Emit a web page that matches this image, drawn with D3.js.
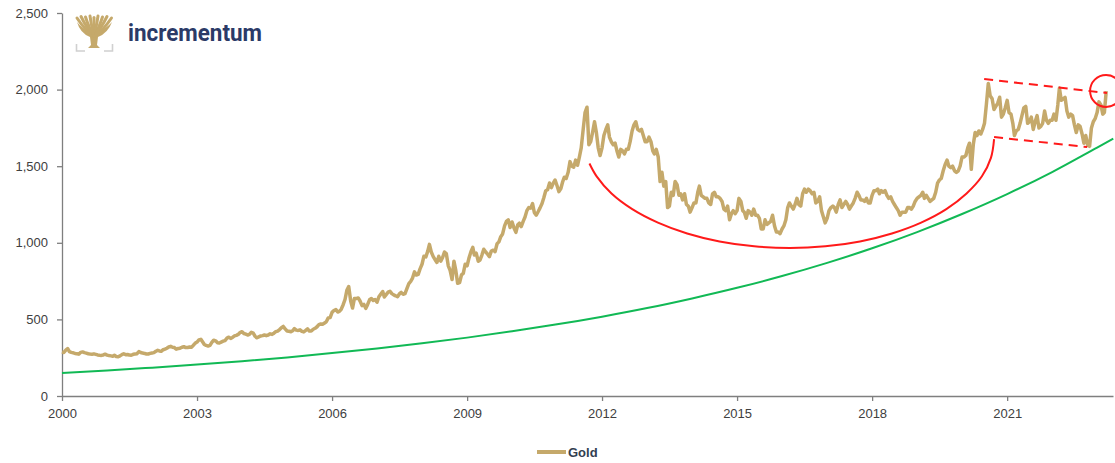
<!DOCTYPE html>
<html>
<head>
<meta charset="utf-8">
<script src="https://cdn.jsdelivr.net/npm/d3@7"></script>
<style>
  body { margin: 0; background: #fff; }
  svg { display: block; font-family: "Liberation Sans", Arial, sans-serif; }
</style>
</head>
<body>
<div id="chart"></div>
<script>
// gold price, USD/oz, two readings per month (1st and 16th)
const gold2000 = [288,284, 300,310, 290,285, 282,278, 276,273, 285,288, 283,280, 276,274, 273,275, 272,268, 266,265, 268,273];
const gold2001 = [267,264, 262,260, 266,258, 256,262, 270,276, 270,271, 267,266, 272,274, 276,290, 284,280, 278,274, 274,278];
const gold2002 = [281,283, 292,298, 294,292, 302,306, 312,320, 324,318, 316,306, 310,312, 318,322, 316,316, 320,318, 330,344];
const gold2003 = [352,366, 370,352, 336,330, 326,330, 350,364, 360,348, 346,352, 358,362, 378,384, 376,382, 392,396, 402,414];
const gold2004 = [420,408, 404,398, 402,416, 410,390, 380,386, 392,394, 398,394, 398,406, 402,410, 420,424, 434,446, 454,438];
const gold2005 = [424,422, 420,426, 440,430, 428,432, 422,418, 428,438, 424,424, 436,442, 452,466, 470,468, 476,486, 510,512];
const gold2006 = [546,558, 564,548, 552,566, 596,630, 690,715, 620,574, 636,636, 640,620, 590,598, 572,596, 628,636, 624,630];
const gold2007 = [612,648, 666,682, 646,662, 678,684, 668,660, 654,648, 666,676, 664,668, 702,734, 748,770, 810,790, 794,830];
const gold2008 = [860,912, 908,944, 990,940, 910,890, 872,912, 880,904, 940,930, 850,820, 760,880, 820,736, 740,790, 800,860];
const gold2009 = [850,900, 942,970, 920,932, 880,888, 920,958, 940,926, 910,946, 952,942, 994,1006, 1040,1058, 1110,1140, 1150,1100];
const gold2010 = [1136,1098, 1068,1118, 1128,1106, 1140,1168, 1210,1230, 1226,1256, 1196,1180, 1204,1228, 1256,1296, 1340,1346, 1390,1360, 1390,1410];
const gold2011 = [1372,1334, 1354,1400, 1428,1420, 1460,1530, 1500,1494, 1540,1506, 1560,1620, 1740,1850, 1885,1640, 1660,1720, 1790,1720, 1620,1570];
const gold2012 = [1620,1700, 1740,1770, 1690,1660, 1640,1650, 1600,1560, 1610,1600, 1580,1610, 1610,1660, 1730,1770, 1790,1740, 1730,1740, 1700,1660];
const gold2013 = [1660,1690, 1660,1600, 1580,1610, 1560,1400, 1460,1370, 1400,1230, 1240,1330, 1310,1400, 1380,1310, 1320,1280, 1320,1250, 1240,1200];
const gold2014 = [1230,1260, 1260,1330, 1370,1310, 1300,1290, 1290,1260, 1250,1320, 1330,1300, 1300,1290, 1270,1220, 1210,1240, 1150,1190, 1210,1190];
const gold2015 = [1210,1290, 1270,1210, 1200,1160, 1210,1200, 1180,1220, 1180,1180, 1160,1090, 1090,1150, 1120,1130, 1140,1180, 1110,1070, 1070,1060];
const gold2016 = [1090,1110, 1150,1230, 1260,1240, 1220,1250, 1290,1250, 1240,1320, 1350,1330, 1350,1340, 1320,1330, 1260,1270, 1300,1210, 1170,1130];
const gold2017 = [1160,1210, 1230,1240, 1230,1200, 1250,1280, 1230,1250, 1270,1250, 1220,1240, 1260,1290, 1330,1310, 1280,1280, 1270,1290, 1260,1260];
const gold2018 = [1310,1340, 1340,1350, 1320,1340, 1330,1340, 1310,1290, 1300,1270, 1250,1230, 1210,1180, 1200,1200, 1200,1230, 1230,1220, 1240,1270];
const gold2019 = [1290,1300, 1310,1330, 1290,1310, 1290,1270, 1280,1290, 1330,1390, 1410,1420, 1470,1510, 1540,1500, 1490,1500, 1470,1460, 1470,1500];
const gold2020 = [1560,1560, 1570,1620, 1650,1480, 1640,1720, 1700,1730, 1710,1740, 1780,1900, 2040,1960, 1940,1870, 1890,1910, 1950,1820, 1840,1880];
const gold2021 = [1930,1850, 1840,1780, 1700,1730, 1740,1780, 1830,1880, 1890,1780, 1790,1820, 1740,1790, 1830,1750, 1760,1780, 1860,1800, 1780,1800];
const gold2022 = [1800,1840, 1800,1900, 2010,1930, 1940,1950, 1860,1820, 1840,1830, 1770,1720, 1770,1760, 1710,1650, 1700,1640, 1630,1750, 1790,1810];
const gold2023 = [1850,1920, 1900,1840, 1850,1990];
const goldByYear = [gold2000, gold2001, gold2002, gold2003, gold2004, gold2005, gold2006, gold2007,
  gold2008, gold2009, gold2010, gold2011, gold2012, gold2013, gold2014, gold2015, gold2016, gold2017,
  gold2018, gold2019, gold2020, gold2021, gold2022, gold2023];

// green trend line
const trendYears  = [2000, 2001, 2002, 2003, 2004, 2005, 2006, 2007, 2008, 2009, 2010, 2011,
  2012, 2013, 2014, 2015, 2016, 2017, 2018, 2019, 2020, 2021, 2022, 2023, 2023.36];
const trendValues = [150, 166, 185, 205, 227, 252, 280, 310, 344, 381, 423, 468,
  518, 574, 637, 706, 783, 869, 964, 1070, 1188, 1318, 1462, 1622, 1680];

// red annotations (points read along the drawn arc)
const arcYears  = [2011.72, 2011.88, 2012.21, 2012.67, 2013.24, 2013.89, 2014.61, 2015.38, 2016.18,
  2016.96, 2017.73, 2018.44, 2019.09, 2019.65, 2020.10, 2020.44, 2020.64, 2020.71];
const arcValues = [1518, 1434, 1322, 1220, 1132, 1061, 1009, 977, 966,
  977, 1009, 1061, 1132, 1220, 1322, 1434, 1554, 1677];
const upperYears = [2020.49, 2023.22], upperValues = [2069, 1978];
const lowerYears = [2020.71, 2022.78], lowerValues = [1690, 1625];
const circleYear = 2023.2, circleValue = 1991;

const yTicks = [0, 500, 1000, 1500, 2000, 2500];
const xTickYears = [2000, 2003, 2006, 2009, 2012, 2015, 2018, 2021];

const width = 1115, height = 463;
const margin = {left: 62, right: 1113, top: 13, bottom: 396};
const goldColor = "#c5a96b";

function decYear(v) {
  const yr = Math.floor(v);
  const s = new Date(yr, 0, 1), e = new Date(yr + 1, 0, 1);
  return new Date(+s + (v - yr) * (e - s));
}

const goldData = [];
goldByYear.forEach((vals, i) => {
  vals.forEach((v, j) => {
    goldData.push({date: new Date(2000 + i, Math.floor(j / 2), j % 2 ? 16 : 1), value: v});
  });
});

const x = d3.scaleTime().domain([new Date(2000, 0, 1), new Date(2023, 4, 10)]).range([margin.left, margin.right]);
const y = d3.scaleLinear().domain([0, 2500]).range([margin.bottom, margin.top]);

const svg = d3.select("#chart").append("svg")
  .attr("width", width)
  .attr("height", height);

// logo: tree + brackets + name
const logo = svg.append("g").attr("class", "logo");
logo.append("path")
  .attr("d", "M77,22 Q80,33 90,37 L91,45 L88,48 L100,48 L97,45 L98,37 Q108,33 112,22 Q106,29 99,30 L94,31 L89,30 Q82,29 77,22 Z")
  .attr("fill", goldColor);
const branches = [[77,18],[81,16.5],[85.5,17],[90,16],[94,17.5],[98,16],[102.5,17],[107,16.5],[111.5,18]];
branches.forEach(b => {
  logo.append("path")
    .attr("d", "M94,36 Q" + ((b[0] + 94) / 2) + "," + (b[1] + 13) + " " + b[0] + "," + b[1])
    .attr("fill", "none")
    .attr("stroke", goldColor)
    .attr("stroke-width", 3)
    .attr("stroke-linecap", "round");
});
logo.append("path").attr("d", "M76.5,44 V51 H85").attr("fill", "none").attr("stroke", "#d0d0d0").attr("stroke-width", 1.6);
logo.append("path").attr("d", "M104,51 H112.5 V44").attr("fill", "none").attr("stroke", "#d0d0d0").attr("stroke-width", 1.6);
svg.append("text")
  .attr("x", 128).attr("y", 41)
  .attr("fill", "#2b3a67")
  .attr("textLength", 134)
  .attr("lengthAdjust", "spacingAndGlyphs")
  .style("font-family", "Roboto, 'Liberation Sans', Arial, sans-serif")
  .style("font-size", "23px")
  .style("font-weight", 700)
  .text("incrementum");

// axes
svg.append("g")
  .attr("class", "yaxis")
  .attr("transform", "translate(" + margin.left + ",0)")
  .call(d3.axisLeft(y).tickValues(yTicks).tickFormat(d3.format(",")).tickSize(5).tickSizeOuter(0).tickPadding(9))
  .call(g => g.selectAll("text").attr("fill", "#404040").style("font-size", "13px"))
  .call(g => g.selectAll("line,path").attr("stroke", "#7f7f7f").attr("stroke-width", 1.3));

svg.append("g")
  .attr("class", "xaxis")
  .attr("transform", "translate(0," + margin.bottom + ")")
  .call(d3.axisBottom(x).tickValues(xTickYears.map(v => new Date(v, 0, 1))).tickFormat(d3.timeFormat("%Y")).tickSize(5).tickSizeOuter(0).tickPadding(8))
  .call(g => g.selectAll("text").attr("fill", "#404040").style("font-size", "13px"))
  .call(g => g.selectAll("line,path").attr("stroke", "#7f7f7f").attr("stroke-width", 1.3));

// trend
svg.append("path")
  .datum(trendYears.map((t, i) => ({date: decYear(t), value: trendValues[i]})))
  .attr("fill", "none")
  .attr("stroke", "#11b955")
  .attr("stroke-width", 2)
  .attr("d", d3.line().curve(d3.curveMonotoneX).x(d => x(d.date)).y(d => y(d.value)));

// gold
svg.append("path")
  .datum(goldData)
  .attr("fill", "none")
  .attr("stroke", goldColor)
  .attr("stroke-width", 3.5)
  .attr("stroke-linejoin", "round")
  .attr("d", d3.line().x(d => x(d.date)).y(d => y(d.value)));

// annotations
svg.append("path")
  .datum(arcYears.map((t, i) => [t, arcValues[i]]))
  .attr("fill", "none")
  .attr("stroke", "#ff1a1a")
  .attr("stroke-width", 2)
  .attr("d", d3.line().curve(d3.curveCatmullRom).x(d => x(decYear(d[0]))).y(d => y(d[1])));

[[upperYears, upperValues], [lowerYears, lowerValues]].forEach(l => {
  svg.append("path")
    .datum(l[0].map((t, i) => [t, l[1][i]]))
    .attr("fill", "none")
    .attr("stroke", "#ff1a1a")
    .attr("stroke-width", 2)
    .attr("stroke-dasharray", "9,6")
    .attr("d", d3.line().x(d => x(decYear(d[0]))).y(d => y(d[1])));
});

svg.append("circle")
  .attr("cx", x(decYear(circleYear)))
  .attr("cy", y(circleValue))
  .attr("r", 16)
  .attr("fill", "none")
  .attr("stroke", "#ff1a1a")
  .attr("stroke-width", 2);

// legend
const legend = svg.append("g").attr("transform", "translate(537,452)");
legend.append("line")
  .attr("x1", 0).attr("x2", 29).attr("y1", 0).attr("y2", 0)
  .attr("stroke", goldColor).attr("stroke-width", 4);
legend.append("text")
  .attr("x", 31).attr("y", 5)
  .attr("fill", "#333f50")
  .style("font-size", "13px")
  .style("font-weight", "bold")
  .text("Gold");
</script>
</body>
</html>
